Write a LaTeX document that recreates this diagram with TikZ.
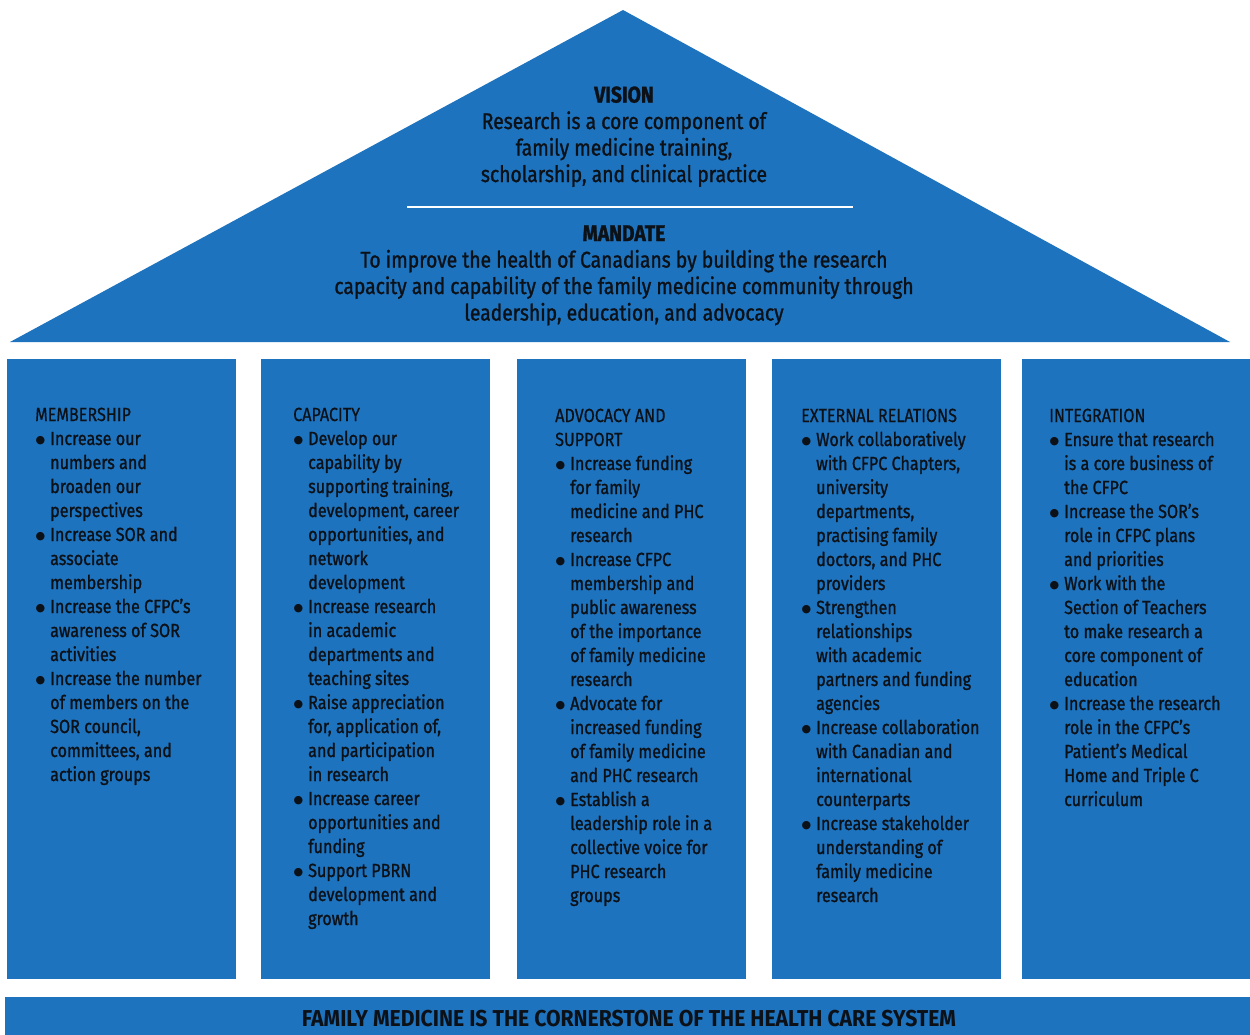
\documentclass[tikz,border=0pt]{standalone}
\usepackage{fontspec}
\setmainfont{Fira Sans}[FakeStretch=0.85, FakeBold=0.5]
\newfontfamily\bodyfont{Fira Sans}[FakeStretch=0.85, FakeBold=1.2]
\newfontfamily\basefont{Fira Sans}[FakeStretch=0.92]
\newfontfamily\dvs{DejaVu Sans}
\definecolor{hblue}{HTML}{1E73BE}
\definecolor{ink}{HTML}{0C1118}
\newcommand{\bl}{\makebox[15pt][l]{\hspace{0.5pt}\raisebox{1.6pt}{\dvs\fontsize{11}{11}\selectfont ●}}}
\newcommand{\ind}{\hspace*{15pt}}
\newcommand{\hd}[1]{{\normalfont #1}}
\tikzset{
  block/.style={fill=hblue, draw=none},
  coltext/.style={anchor=north west, inner sep=0pt, align=left, text=ink,
    font=\fontsize{19}{24}\bodyfont},
  rooftext/.style={inner sep=0pt, align=center, text=ink,
    font=\fontsize{22.7}{26.5}\bodyfont},
  basetext/.style={inner sep=0pt, text=ink, font=\fontsize{23}{24}\basefont\bfseries}
}
\begin{document}
\begin{tikzpicture}[x=1pt,y=-1pt]
\useasboundingbox (0,0) rectangle (1250,1035);
% roof
\fill[block] (623,10) -- (1230,342) -- (10,342) -- cycle;
\coordinate (la) at (407,207);
\coordinate (lb) at (853,207);
\draw[white, line width=2.5pt] (la) -- (lb);
\node[rooftext] (vision) at (624,137) {\strut\bfseries VISION\\
Research is a core component of\\
family medicine training,\\
scholarship, and clinical practice\strut};
\node[rooftext] (mandate) at (624,275.5) {\strut\bfseries MANDATE\\
To improve the health of Canadians by building the research\\
capacity and capability of the family medicine community through\\
leadership, education, and advocacy\strut};
% columns
\fill[block] (7,359) rectangle (236,979);
\fill[block] (261,359) rectangle (490,979);
\fill[block] (517,359) rectangle (746,979);
\fill[block] (772,359) rectangle (1001,979);
\fill[block] (1022,359) rectangle (1250,979);
\node[coltext] (c1) at (35,404) {\strut\hd{MEMBERSHIP}\\
\bl Increase our\\
\ind numbers and\\
\ind broaden our\\
\ind perspectives\\
\bl Increase SOR and\\
\ind associate\\
\ind membership\\
\bl Increase the CFPC’s\\
\ind awareness of SOR\\
\ind activities\\
\bl Increase the number\\
\ind of members on the\\
\ind SOR council,\\
\ind committees, and\\
\ind action groups};
\node[coltext] (c2) at (293,404) {\strut\hd{CAPACITY}\\
\bl Develop our\\
\ind capability by\\
\ind supporting training,\\
\ind development, career\\
\ind opportunities, and\\
\ind network\\
\ind development\\
\bl Increase research\\
\ind in academic\\
\ind departments and\\
\ind teaching sites\\
\bl Raise appreciation\\
\ind for, application of,\\
\ind and participation\\
\ind in research\\
\bl Increase career\\
\ind opportunities and\\
\ind funding\\
\bl Support PBRN\\
\ind development and\\
\ind growth};
\node[coltext] (c3) at (555,405) {\strut\hd{ADVOCACY AND}\\
\hd{SUPPORT}\\
\bl Increase funding\\
\ind for family\\
\ind medicine and PHC\\
\ind research\\
\bl Increase CFPC\\
\ind membership and\\
\ind public awareness\\
\ind of the importance\\
\ind of family medicine\\
\ind research\\
\bl Advocate for\\
\ind increased funding\\
\ind of family medicine\\
\ind and PHC research\\
\bl Establish a\\
\ind leadership role in a\\
\ind collective voice for\\
\ind PHC research\\
\ind groups};
\node[coltext] (c4) at (801,405) {\strut\hd{EXTERNAL RELATIONS}\\
\bl Work collaboratively\\
\ind with CFPC Chapters,\\
\ind university\\
\ind departments,\\
\ind practising family\\
\ind doctors, and PHC\\
\ind providers\\
\bl Strengthen\\
\ind relationships\\
\ind with academic\\
\ind partners and funding\\
\ind agencies\\
\bl Increase collaboration\\
\ind with Canadian and\\
\ind international\\
\ind counterparts\\
\bl Increase stakeholder\\
\ind understanding of\\
\ind family medicine\\
\ind research};
\node[coltext] (c5) at (1049,405) {\strut\hd{INTEGRATION}\\
\bl Ensure that research\\
\ind is a core business of\\
\ind the CFPC\\
\bl Increase the SOR’s\\
\ind role in CFPC plans\\
\ind and priorities\\
\bl Work with the\\
\ind Section of Teachers\\
\ind to make research a\\
\ind core component of\\
\ind education\\
\bl Increase the research\\
\ind role in the CFPC’s\\
\ind Patient’s Medical\\
\ind Home and Triple C\\
\ind curriculum};
% base
\fill[block] (5,997) rectangle (1250,1035);
\node[basetext] (base) at (629,1019) {FAMILY MEDICINE IS THE CORNERSTONE OF THE HEALTH CARE SYSTEM};
\end{tikzpicture}
\end{document}
